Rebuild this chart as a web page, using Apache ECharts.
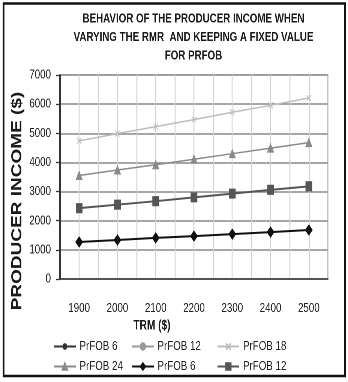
<!DOCTYPE html>
<html>
<head>
<meta charset="utf-8">
<script src="https://cdn.jsdelivr.net/npm/echarts@6/dist/echarts.min.js"></script>
<style>
  html, body { margin: 0; padding: 0; background: #fff; overflow: hidden; }
  #wrap { width: 348px; height: 382px; overflow: hidden; }
  /* the source picture is squeezed sideways, so the chart is laid out wider and narrowed */
  #main { width: 464px; height: 382px; transform: scaleX(0.75); transform-origin: 0 0; }
</style>
</head>
<body>
<div id="wrap"><div id="main"></div></div>
<script>
var categories = ['1900', '2000', '2100', '2200', '2300', '2400', '2500'];
// the four visible lines
var prfob6 = [1270, 1340, 1410, 1470, 1540, 1610, 1680];
var prfob12 = [2430, 2550, 2670, 2800, 2930, 3060, 3180];
var prfobTri = [3550, 3740, 3920, 4110, 4300, 4490, 4680];
var prfobTop = [4740, 4990, 5230, 5470, 5720, 5960, 6210];

var font = '"Liberation Sans", Arial, sans-serif';
var asterisk = 'path://M0,5L10,5M5,0L5,10M1.5,1.5L8.5,8.5M8.5,1.5L1.5,8.5';
var cross = 'path://M0,0L10,10M10,0L0,10';

var chart = echarts.init(document.getElementById('main'), null, { devicePixelRatio: 2 });

function lineSeries(name, data, color, width, symbol, size, z) {
    return {
        name: name,
        type: 'line',
        data: data,
        symbol: symbol,
        symbolSize: size,
        z: z,
        lineStyle: { color: color, width: width },
        itemStyle: { color: color, borderColor: color, borderWidth: 1 }
    };
}

function plain(v) { return String(v); }

var legendText = { fontFamily: font, fontSize: 13, color: '#222' };

var option = {
    animation: false,
    title: {
        text: 'BEHAVIOR OF THE PRODUCER INCOME WHEN\nVARYING THE RMR  AND KEEPING A FIXED VALUE\nFOR PRFOB',
        left: 253,
        top: 5,
        textAlign: 'center',
        textStyle: {
            fontFamily: font,
            fontWeight: 'bold',
            fontSize: 13,
            lineHeight: 18.3,
            color: '#1a1a1a'
        }
    },
    graphic: [{
        type: 'rect',
        shape: { x: 4.7, y: 3.5, width: 455.3, height: 372.5 },
        style: { fill: 'none', stroke: '#111', lineWidth: 2.4 },
        silent: true
    }],
    legend: [{
        orient: 'vertical', left: 66, top: 335, itemGap: 7,
        itemWidth: 29, itemHeight: 8, textStyle: legendText,
        data: ['PrFOB 6', 'PrFOB 24']
    }, {
        orient: 'vertical', left: 170, top: 335, itemGap: 7,
        itemWidth: 29, itemHeight: 8, textStyle: legendText,
        data: ['PrFOB 12', 'PrFOB 6 ']
    }, {
        orient: 'vertical', left: 284, top: 335, itemGap: 7,
        itemWidth: 29, itemHeight: 8, textStyle: legendText,
        data: ['PrFOB 18', 'PrFOB 12 ']
    }],
    grid: {
        left: 80, right: 26.7, top: 75, bottom: 103,
        show: true, borderColor: '#888', borderWidth: 1.3
    },
    xAxis: [{
        type: 'category',
        data: categories,
        boundaryGap: true,
        name: 'TRM ($)',
        nameLocation: 'middle',
        nameGap: 40,
        nameMoveOverlap: false,
        nameTextStyle: {
            fontFamily: font, fontWeight: 'bold', fontSize: 13.5, color: '#1a1a1a',
            padding: [0, 112, 0, 0]
        },
        axisLine: { lineStyle: { color: '#333', width: 1.5 } },
        axisTick: { alignWithLabel: true, length: 4, lineStyle: { color: '#333', width: 1.3 } },
        axisLabel: { fontFamily: font, fontSize: 13, color: '#222', margin: 23, formatter: plain },
        splitLine: { show: false }
    }, {
        type: 'value',
        min: 0, max: 14, interval: 1,
        axisLine: { show: false },
        axisTick: { show: false },
        axisLabel: { show: false },
        splitLine: { show: true, lineStyle: { color: '#d2d2d2', width: 1.3 } }
    }],
    yAxis: {
        type: 'value',
        min: 0, max: 7000, interval: 1000,
        name: 'PRODUCER INCOME ($)',
        nameLocation: 'middle',
        nameRotate: 90,
        nameGap: 47,
        nameMoveOverlap: false,
        nameTextStyle: {
            fontFamily: font, fontWeight: 'bold', fontSize: 19, color: '#1a1a1a',
            padding: [0, 48, 0, 0]
        },
        axisLine: { show: true, lineStyle: { color: '#333', width: 2 } },
        axisTick: { show: true, length: 5, lineStyle: { color: '#333', width: 1.3 } },
        axisLabel: { fontFamily: font, fontSize: 13, color: '#222', margin: 12, formatter: plain },
        splitLine: { lineStyle: { color: '#888', width: 1.5 } }
    },
    series: [
        lineSeries('PrFOB 6', prfob6, '#333', 1.5, asterisk, 7, 2),
        lineSeries('PrFOB 12', prfob12, '#999', 1.5, 'circle', 6, 2),
        lineSeries('PrFOB 18', prfobTop, '#bdbdbd', 1.5, cross, 6, 3),
        lineSeries('PrFOB 24', prfobTri, '#8a8a8a', 1.5, 'triangle', 8, 3),
        lineSeries('PrFOB 6 ', prfob6, '#111', 2, 'diamond', [9, 10], 4),
        lineSeries('PrFOB 12 ', prfob12, '#555', 2, 'rect', [8, 9], 4)
    ]
};

chart.setOption(option);
</script>
</body>
</html>
